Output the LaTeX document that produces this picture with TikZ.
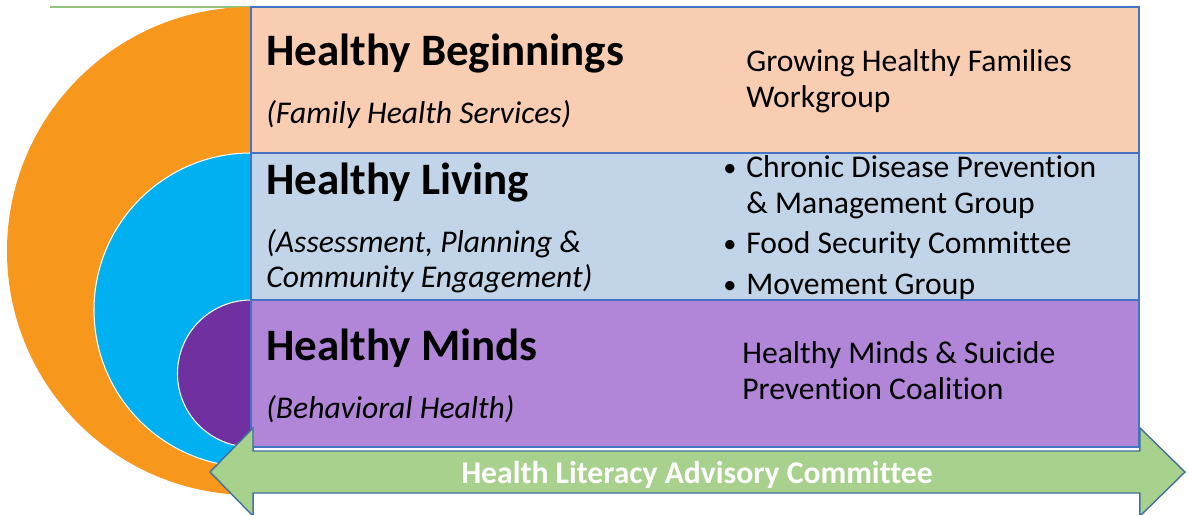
\documentclass[tikz,border=0pt]{standalone}
\usepackage{fontspec}
\setmainfont{Carlito}[Ligatures=NoCommon]

\definecolor{ringOrange}{RGB}{247,152,29}
\definecolor{ringBlue}{RGB}{0,176,240}
\definecolor{ringPurple}{RGB}{112,48,160}
\definecolor{bandPeach}{RGB}{248,205,177}
\definecolor{bandBlue}{RGB}{194,213,232}
\definecolor{bandPurple}{RGB}{177,134,216}
\definecolor{bandLine}{RGB}{68,114,196}
\definecolor{arrowGreen}{RGB}{169,209,142}
\definecolor{arrowLine}{RGB}{65,113,156}
\definecolor{topLine}{RGB}{146,196,125}

\tikzset{
  band/.style={draw=bandLine, line width=0.8pt},
  title/.style={anchor=base west, inner sep=0pt, font=\fontsize{25.6}{30}\selectfont\bfseries},
  subtitle/.style={anchor=base west, inner sep=0pt, align=left, font=\fontsize{18}{19.4}\selectfont\itshape},
  group/.style={anchor=base west, inner sep=0pt, align=left, font=\fontsize{18}{20.4}\selectfont},
  dot/.style={anchor=base, inner sep=0pt, font=\fontsize{15}{18}\selectfont},
}

\begin{document}
\begin{tikzpicture}[x=0.02cm, y=-0.02cm]

% Fix the page to the picture size
\useasboundingbox (0,0) rectangle (1189,514);

% Thin green line at the top
\draw[topLine, line width=0.6pt] (50,7) -- (251,7);

% Draw the three half discs (left halves only)
\begin{scope}
  \clip (0,0) rectangle (251,514);
  \fill[ringOrange] (251,251) circle[radius=244];
  \filldraw[fill=ringBlue, draw=white, line width=0.6pt] (251,310) circle[radius=157];
  \filldraw[fill=ringPurple, draw=white, line width=0.6pt] (251,373.5) circle[radius=73.5];
\end{scope}

% White box under the arrow
\filldraw[band, fill=white] (253,447) rectangle (1140,530);

% Draw the three bands
\filldraw[band, fill=bandPeach] (251,7) rectangle (1139,153);
\filldraw[band, fill=bandBlue] (251,153) rectangle (1139,300);
\filldraw[band, fill=bandPurple] (251,300) rectangle (1139,447);

% Draw the double arrow
\filldraw[fill=arrowGreen, draw=arrowLine, line width=0.8pt]
  (210,472) -- (253,428) -- (253,451) -- (1140,451) -- (1140,428) -- (1185,472)
  -- (1140,516) -- (1140,493) -- (253,493) -- (253,516) -- cycle;
\node[anchor=base, inner sep=0pt, text=white, font=\fontsize{18}{20}\selectfont\bfseries]
  (literacy) at (697,483) {Health Literacy Advisory Committee};

% Left column: titles and services (base = last line)
\node[title] (beginnings) at (266,65) {Healthy Beginnings};
\node[subtitle] (family) at (266,123) {(Family Health Services)};
\node[title] (living) at (266,194) {Healthy Living};
\node[subtitle] (assessment) at (266,287) {(Assessment, Planning \&\\Community Engagement)};
\node[title] (minds) at (266,360) {Healthy Minds};
\node[subtitle] (behavioral) at (266,418) {(Behavioral Health)};

% Right column: groups
\node[group] (growing) at (746,107) {Growing Healthy Families\\Workgroup};
\node[dot] (dot1) at (730,176) {•};
\node[group] (chronic) at (746,213) {Chronic Disease Prevention\\\& Management Group};
\node[dot] (dot2) at (730,252) {•};
\node[group] (food) at (746,253) {Food Security Committee};
\node[dot] (dot3) at (730,293) {•};
\node[group] (movement) at (746,294) {Movement Group};
\node[group] (suicide) at (742,399) {Healthy Minds \& Suicide\\Prevention Coalition};

\end{tikzpicture}
\end{document}
